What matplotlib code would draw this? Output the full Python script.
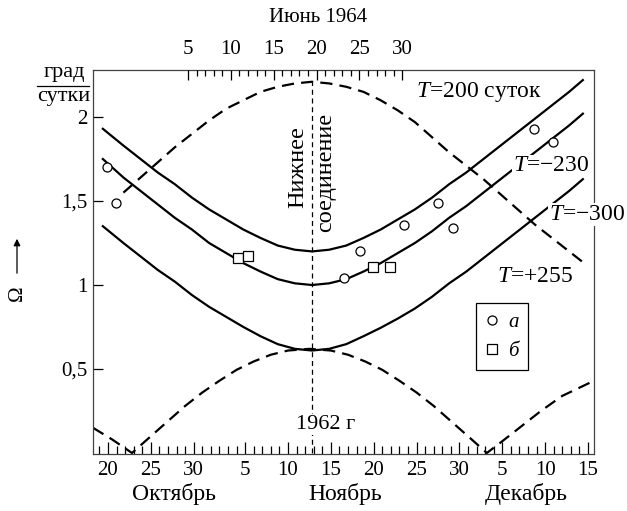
import matplotlib.pyplot as plt
from matplotlib.lines import Line2D

plt.rcParams['font.family'] = ['Liberation Serif', 'DejaVu Serif']
plt.rcParams['mathtext.fontset'] = 'custom'
plt.rcParams['mathtext.rm'] = 'Liberation Serif'
plt.rcParams['mathtext.it'] = 'Liberation Serif:italic'

# дни: 1 окт = 1, 1 ноя = 32, 1 дек = 62 (1962 г)
curve_day = [19.4, 21.8, 23.8, 25.8, 27.8, 29.8, 31.8, 33.8, 35.8, 37.8, 39.8, 41.8, 43.8,
             45.8, 47.8, 49.8, 51.8, 53.8, 55.8, 57.8, 59.8, 61.8, 63.8, 65.8, 67.8, 69.8,
             71.8, 73.8, 75.4]
t200_om = [1.93, 1.83, 1.75, 1.67, 1.60, 1.52, 1.45, 1.39, 1.33, 1.28, 1.235, 1.21, 1.20,
           1.21, 1.235, 1.28, 1.33, 1.39, 1.45, 1.52, 1.60, 1.67, 1.75, 1.83, 1.91, 1.99,
           2.07, 2.15, 2.22]
t230_om = [1.75, 1.64, 1.56, 1.48, 1.40, 1.33, 1.25, 1.19, 1.13, 1.08, 1.035, 1.01, 1.00,
           1.01, 1.035, 1.08, 1.13, 1.19, 1.25, 1.32, 1.40, 1.47, 1.55, 1.63, 1.71, 1.79,
           1.87, 1.95, 2.02]
t300_om = [1.35, 1.25, 1.17, 1.09, 1.02, 0.94, 0.87, 0.81, 0.75, 0.695, 0.648, 0.62, 0.61,
           0.62, 0.648, 0.695, 0.745, 0.80, 0.86, 0.93, 1.01, 1.08, 1.16, 1.24, 1.32, 1.40,
           1.48, 1.56, 1.63]

hi_day = [21.8, 23.8, 25.8, 27.8, 29.8, 31.8, 33.8, 35.8, 37.8, 39.8, 41.8, 43.8, 45.8, 47.8,
          49.8, 51.8, 53.8, 55.8, 57.8, 59.8, 61.8, 63.8, 65.8, 67.8, 69.8, 71.8, 73.8, 75.3]
hi_om = [1.55, 1.64, 1.73, 1.82, 1.90, 1.98, 2.05, 2.10, 2.15, 2.18, 2.20, 2.21, 2.20, 2.18,
         2.15, 2.10, 2.04, 1.97, 1.88, 1.79, 1.71, 1.63, 1.54, 1.45, 1.36, 1.28, 1.20, 1.14]

lo_day = [18.25, 20.5, 22.8, 25.0, 27.0, 29.0, 31.0, 33.0, 35.0, 37.0, 39.0, 41.0, 43.5, 46.0,
          48.0, 50.0, 52.0, 54.0, 56.0, 58.0, 60.0, 62.0, 64.2, 66.0, 68.0, 70.5, 73.0, 76.7]
lo_om = [0.15, 0.08, 0.0, 0.10, 0.19, 0.28, 0.36, 0.43, 0.495, 0.545, 0.585, 0.61, 0.62, 0.61,
         0.585, 0.545, 0.495, 0.43, 0.36, 0.28, 0.19, 0.10, 0.0, 0.07, 0.15, 0.25, 0.34, 0.43]

a_day = [19.9, 20.9, 47.5, 49.4, 54.5, 58.5, 60.3, 69.7, 71.9]
a_om = [1.70, 1.49, 1.04, 1.20, 1.36, 1.49, 1.34, 1.93, 1.85]
b_day = [35.2, 36.3, 50.9, 52.9]
b_om = [1.16, 1.17, 1.11, 1.11]

conj_day = 43.8
conj_top = 2.21
june_shift = 24.33  # 1 июня 1964 против шкалы 1962 г

x_major = [20, 25, 30, 36, 41, 46, 51, 56, 61, 66, 71, 76]
x_labels = ['20', '25', '30', '5', '10', '15', '20', '25', '30', '5', '10', '15']
y_major = [0.5, 1, 1.5, 2]
y_labels = ['0,5', '1', '1,5', '2']
june_major = [5, 10, 15, 20, 25, 30]

W, H = 627, 511
fig = plt.figure(figsize=(W / 100, H / 100), dpi=100)
ax = fig.add_axes([93 / W, 1 - 454 / H, 501 / W, 384 / H])
xmin, xmax = 18.25, 76.7
ax.set_xlim(xmin, xmax)
ax.set_ylim(-0.006, 2.28)

dash = (0, (5.5, 3.2))
ax.plot(curve_day, t200_om, color='k', lw=1.6)
ax.plot(curve_day, t230_om, color='k', lw=1.6)
ax.plot(curve_day, t300_om, color='k', lw=1.6)
ax.plot(hi_day, hi_om, color='k', lw=1.6, linestyle=dash)
ax.plot(lo_day, lo_om, color='k', lw=1.6, linestyle=dash)
ax.plot([conj_day, conj_day], [0, conj_top], color='k', lw=0.9, linestyle=(0, (4, 3)))

ax.plot(a_day, a_om, 'o', mfc='white', mec='k', ms=6.5, mew=0.9, label='а', zorder=4)
ax.plot(b_day, b_om, 's', mfc='white', mec='k', ms=7, mew=0.9, label='б', zorder=4)

leg = ax.legend(loc='upper left', bbox_to_anchor=((476 - 93) / 501, (454 - 303) / 384),
                borderaxespad=0, fancybox=False, edgecolor='k', framealpha=1,
                handlelength=0.6, handletextpad=0.5, borderpad=0.45, labelspacing=0.45,
                prop={'style': 'italic', 'size': 15})
leg.get_frame().set_linewidth(0.9)

ax.set_xticks(x_major)
ax.set_xticklabels(x_labels)
ax.set_xticks([d for d in range(19, 77) if d not in x_major], minor=True)
ax.set_yticks(y_major)
ax.set_yticklabels(y_labels)
ax.tick_params(axis='both', which='both', direction='in', labelsize=15, width=0.9, colors='k')
ax.tick_params(axis='x', which='major', length=9, pad=5)
ax.tick_params(axis='x', which='minor', length=5.5)
ax.tick_params(axis='y', which='major', length=7, pad=4)
for s in ax.spines.values():
    s.set_linewidth(0.9)
    s.set_color('0.25')

ax2 = ax.twiny()
ax2.set_xlim(xmin - june_shift, xmax - june_shift)
ax2.set_xticks(june_major)
ax2.set_xticks([d for d in range(5, 31) if d not in june_major], minor=True)
ax2.tick_params(axis='x', which='both', direction='in', labelsize=15, width=0.9)
ax2.tick_params(axis='x', which='major', length=7, pad=8)
ax2.tick_params(axis='x', which='minor', length=4.5)
for s in ax2.spines.values():
    s.set_visible(False)

tb = dict(facecolor='white', edgecolor='none', pad=0.5)
ax.text(63.3, 2.15, '$T$=200 суток', fontsize=17, ha='center', va='center', bbox=tb, zorder=5)
ax.text(71.7, 1.71, '$T$=−230', fontsize=17, ha='center', va='center', bbox=tb, zorder=5)
ax.text(75.9, 1.42, '$T$=−300', fontsize=17, ha='center', va='center', bbox=tb, zorder=5, clip_on=False)
ax.text(69.8, 1.05, '$T$=+255', fontsize=17, ha='center', va='center', bbox=tb, zorder=5)
ax.text(45.4, 0.17, '1962 г', fontsize=16, ha='center', va='center', bbox=tb, zorder=5)
ax.text(42.1, 1.70, 'Нижнее', fontsize=17.5, rotation=90, ha='center', va='center')
ax.text(45.4, 1.67, 'соединение', fontsize=17.5, rotation=90, ha='center', va='center')

fig.text(318 / W, 1 - 18 / H, 'Июнь 1964', fontsize=15, ha='center', va='center')
fig.text(174 / W, 1 - 494 / H, 'Октябрь', fontsize=17, ha='center', va='center')
fig.text(345 / W, 1 - 494 / H, 'Ноябрь', fontsize=17, ha='center', va='center')
fig.text(526 / W, 1 - 494 / H, 'Декабрь', fontsize=17, ha='center', va='center')

fig.text(64 / W, 1 - 73 / H, 'град', fontsize=16, ha='center', va='center')
fig.text(64 / W, 1 - 97 / H, 'сутки', fontsize=16, ha='center', va='center')
fig.add_artist(Line2D([37 / W, 89 / W], [1 - 86 / H, 1 - 86 / H], color='k', lw=0.9))

fig.text(17 / W, 1 - 293 / H, 'Ω', fontsize=15, rotation=90, ha='center', va='center')
ax.annotate('', xy=(17 / W, 1 - 236 / H), xytext=(17 / W, 1 - 276 / H),
            xycoords='figure fraction', textcoords='figure fraction',
            arrowprops=dict(arrowstyle='-|>', color='k', lw=0.9, mutation_scale=10))

fig.savefig('out.png', dpi=100, facecolor='white')
